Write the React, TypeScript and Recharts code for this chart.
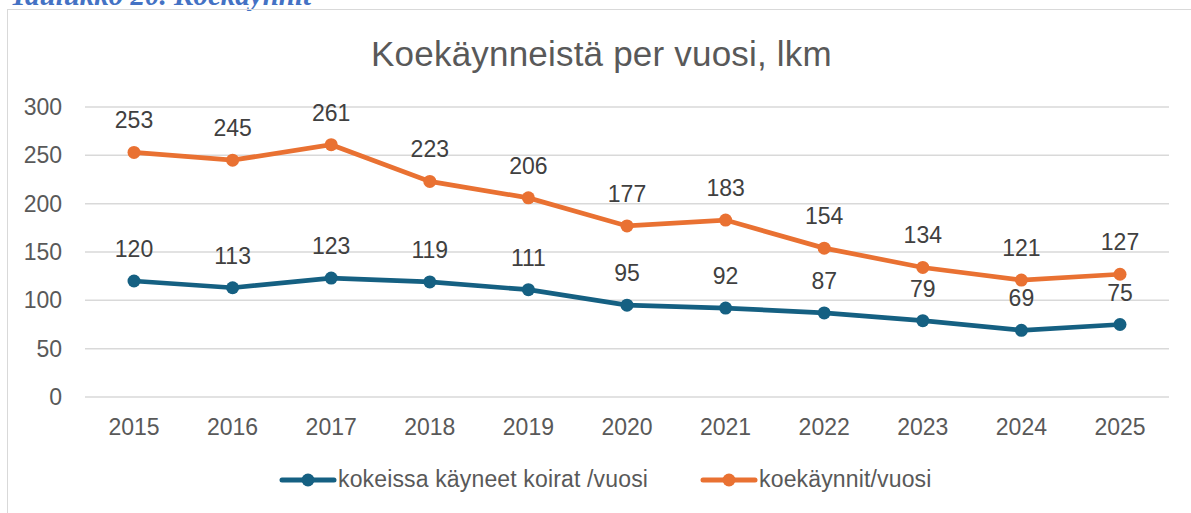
import React from "react";
import { LineChart, Line, XAxis, YAxis, CartesianGrid, LabelList } from "recharts";

const years = ["2015", "2016", "2017", "2018", "2019", "2020", "2021", "2022", "2023", "2024", "2025"];
const dogs = [120, 113, 123, 119, 111, 95, 92, 87, 79, 69, 75];
const visits = [253, 245, 261, 223, 206, 177, 183, 154, 134, 121, 127];
const yTicks = [0, 50, 100, 150, 200, 250, 300];

const BLUE = "#156082";
const ORANGE = "#E97132";
const FONT = "'Liberation Sans', Arial, sans-serif";

const data = years.map((year, i) => ({ year, dogs: dogs[i], visits: visits[i] }));

const LegendItem = ({ color, label }: { color: string; label: string }) => (
  <div style={{ display: "flex", alignItems: "center" }}>
    <svg width={58} height={16} style={{ marginRight: 1 }}>
      <line x1={3} y1={8} x2={55} y2={8} stroke={color} strokeWidth={5} strokeLinecap="round" />
      <circle cx={29} cy={8} r={6.5} fill={color} />
    </svg>
    <span style={{ letterSpacing: 0.15 }}>{label}</span>
  </div>
);

export default function App() {
  return (
    <div style={{ position: "absolute", left: 0, top: 0, width: 1191, height: 513, overflow: "hidden", background: "#fff" }}>
      {/* caption from the page above, cut off by the crop */}
      <div
        style={{
          position: "absolute",
          left: 10,
          top: -21,
          fontFamily: "'Liberation Serif', serif",
          fontStyle: "italic",
          fontWeight: "bold",
          fontSize: 29,
          color: "#4472C4",
          whiteSpace: "nowrap",
        }}
      >
        Taulukko 20. Koekäynnit
      </div>
      <div
        style={{
          position: "absolute",
          left: 7,
          top: 9,
          width: 1200,
          height: 520,
          border: "1.5px solid #d9d9d9",
          boxSizing: "border-box",
        }}
      />
      <div
        style={{
          position: "absolute",
          left: 0,
          top: 34,
          width: 1203,
          textAlign: "center",
          fontFamily: FONT,
          fontSize: 35,
          letterSpacing: 0.2,
          color: "#595959",
        }}
      >
        Koekäynneistä per vuosi, lkm
      </div>
      <div style={{ position: "absolute", left: 0, top: 0 }}>
        <LineChart width={1191} height={513} data={data} margin={{ top: 107, right: 22, bottom: 86, left: 25 }}>
          <CartesianGrid vertical={false} stroke="#d9d9d9" strokeWidth={1.5} />
          <XAxis
            dataKey="year"
            height={30}
            axisLine={false}
            tickLine={false}
            tickSize={0}
            tickMargin={22}
            padding={{ left: 49, right: 49 }}
            interval={0}
            tick={{ fill: "#595959", fontSize: 23, fontFamily: FONT }}
          />
          <YAxis
            width={60}
            domain={[0, 300]}
            ticks={yTicks}
            axisLine={false}
            tickLine={false}
            tickSize={0}
            tickMargin={23}
            tick={{ fill: "#595959", fontSize: 23, fontFamily: FONT }}
          />
          <Line
            dataKey="dogs"
            stroke={BLUE}
            strokeWidth={4.7}
            dot={{ r: 6.5, fill: BLUE, stroke: BLUE, strokeWidth: 0 }}
            isAnimationActive={false}
          >
            <LabelList dataKey="dogs" position="top" offset={24} fill="#404040" fontSize={23} fontFamily={FONT} />
          </Line>
          <Line
            dataKey="visits"
            stroke={ORANGE}
            strokeWidth={4.7}
            dot={{ r: 6.5, fill: ORANGE, stroke: ORANGE, strokeWidth: 0 }}
            isAnimationActive={false}
          >
            <LabelList dataKey="visits" position="top" offset={24} fill="#404040" fontSize={23} fontFamily={FONT} />
          </Line>
        </LineChart>
      </div>
      <div
        style={{
          position: "absolute",
          left: 279,
          top: 466,
          display: "flex",
          gap: 52,
          fontFamily: FONT,
          fontSize: 23,
          color: "#595959",
        }}
      >
        <LegendItem color={BLUE} label="kokeissa käyneet koirat /vuosi" />
        <LegendItem color={ORANGE} label="koekäynnit/vuosi" />
      </div>
    </div>
  );
}
